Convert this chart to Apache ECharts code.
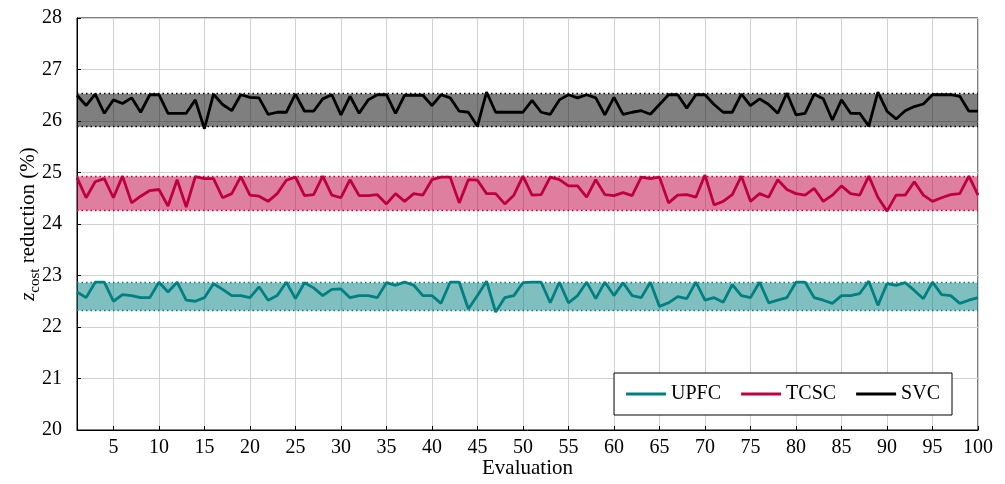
<!DOCTYPE html>
<html>
<head>
<meta charset="utf-8">
<script src="https://cdn.jsdelivr.net/npm/echarts@6/dist/echarts.min.js"></script>
<style>
  html, body { margin: 0; padding: 0; background: #fff; }
  #chart { width: 1005px; height: 484px; }
</style>
</head>
<body>
<div id="chart"></div>
<script>
// z_cost reduction (%) per evaluation
const upfc = [
  22.68, 22.57, 22.87, 22.87, 22.50, 22.63, 22.61, 22.57, 22.57, 22.87,
  22.68, 22.87, 22.52, 22.50, 22.57, 22.84, 22.73, 22.61, 22.61, 22.57,
  22.78, 22.52, 22.61, 22.87, 22.55, 22.86, 22.76, 22.61, 22.73, 22.74,
  22.57, 22.61, 22.61, 22.57, 22.86, 22.81, 22.87, 22.81, 22.61, 22.61,
  22.46, 22.87, 22.87, 22.35, 22.61, 22.89, 22.29, 22.57, 22.61, 22.86,
  22.87, 22.87, 22.47, 22.87, 22.47, 22.61, 22.87, 22.55, 22.87, 22.61,
  22.86, 22.61, 22.57, 22.87, 22.40, 22.47, 22.59, 22.55, 22.87, 22.52,
  22.57, 22.48, 22.82, 22.61, 22.57, 22.87, 22.47, 22.52, 22.57, 22.87,
  22.87, 22.57, 22.52, 22.46, 22.61, 22.61, 22.65, 22.89, 22.42, 22.84,
  22.81, 22.86, 22.71, 22.55, 22.87, 22.63, 22.61, 22.46, 22.52, 22.57
];
const tcsc = [
  24.90, 24.51, 24.82, 24.88, 24.51, 24.93, 24.41, 24.54, 24.65, 24.67,
  24.35, 24.86, 24.33, 24.92, 24.88, 24.88, 24.51, 24.59, 24.92, 24.56,
  24.54, 24.44, 24.59, 24.85, 24.91, 24.55, 24.57, 24.93, 24.56, 24.51,
  24.86, 24.55, 24.55, 24.57, 24.39, 24.59, 24.44, 24.59, 24.56, 24.86,
  24.91, 24.91, 24.41, 24.86, 24.85, 24.59, 24.59, 24.39, 24.56, 24.93,
  24.56, 24.57, 24.91, 24.86, 24.74, 24.74, 24.52, 24.86, 24.57, 24.55,
  24.61, 24.55, 24.91, 24.88, 24.91, 24.41, 24.56, 24.57, 24.52, 24.95,
  24.37, 24.44, 24.57, 24.93, 24.44, 24.59, 24.52, 24.86, 24.67, 24.59,
  24.56, 24.69, 24.44, 24.56, 24.74, 24.59, 24.56, 24.93, 24.52, 24.25,
  24.56, 24.56, 24.82, 24.56, 24.44, 24.51, 24.57, 24.59, 24.93, 24.56
];
const svc = [
  26.50, 26.30, 26.52, 26.15, 26.41, 26.34, 26.45, 26.17, 26.51, 26.51,
  26.15, 26.15, 26.15, 26.41, 25.85, 26.52, 26.32, 26.20, 26.51, 26.46,
  26.45, 26.13, 26.17, 26.17, 26.52, 26.19, 26.19, 26.43, 26.51, 26.12,
  26.48, 26.15, 26.41, 26.51, 26.51, 26.15, 26.50, 26.50, 26.50, 26.30,
  26.51, 26.45, 26.19, 26.17, 25.90, 26.56, 26.17, 26.17, 26.17, 26.17,
  26.40, 26.17, 26.13, 26.41, 26.51, 26.45, 26.51, 26.45, 26.12, 26.46,
  26.13, 26.17, 26.20, 26.13, 26.32, 26.51, 26.51, 26.25, 26.51, 26.51,
  26.32, 26.17, 26.17, 26.52, 26.30, 26.43, 26.32, 26.15, 26.54, 26.12,
  26.15, 26.52, 26.43, 26.02, 26.41, 26.15, 26.15, 25.90, 26.56, 26.19,
  26.04, 26.20, 26.28, 26.33, 26.51, 26.51, 26.51, 26.48, 26.19, 26.19
];

// min/max bands drawn behind each series
const upfcBand = [22.32, 22.86];
const tcscBand = [24.26, 24.92];
const svcBand = [25.89, 26.53];

// x tick labels
const xTicks = [5, 10, 15, 20, 25, 30, 35, 40, 45, 50, 55, 60, 65, 70, 75, 80, 85, 90, 95, 100];

const FONT = 'Liberation Serif';

function bandSeries(name, values, color, fill, band) {
  return {
    name: name,
    type: 'line',
    data: values.map((v, i) => [i + 1, v]),
    symbol: 'none',
    lineStyle: { color: color, width: 2.8 },
    itemStyle: { color: color },
    z: 3,
    markArea: {
      silent: true,
      itemStyle: { color: fill },
      data: [[{ yAxis: band[0] }, { yAxis: band[1] }]]
    },
    markLine: {
      silent: true,
      symbol: 'none',
      label: { show: false },
      lineStyle: { color: color, type: [1.5, 3], width: 1.3 },
      data: [{ yAxis: band[0] }, { yAxis: band[1] }]
    }
  };
}

const chart = echarts.init(document.getElementById('chart'));
chart.setOption({
  animation: false,
  grid: {
    left: 77, right: 27, top: 18, bottom: 54,
    outerBoundsMode: 'none',
    show: true, borderColor: '#000', borderWidth: 1
  },
  legend: {
    right: 53, bottom: 69,
    icon: 'rect', itemWidth: 40, itemHeight: 3, itemGap: 20,
    padding: [11, 12, 11, 12],
    backgroundColor: '#fff', borderColor: '#000', borderWidth: 1, borderRadius: 0,
    textStyle: { fontFamily: FONT, fontSize: 20, color: '#000' },
    data: ['UPFC', 'TCSC', 'SVC']
  },
  xAxis: {
    type: 'value', min: 1, max: 100,
    name: 'Evaluation', nameLocation: 'middle', nameGap: 28, nameMoveOverlap: false,
    nameTextStyle: { fontFamily: FONT, fontSize: 21, color: '#000' },
    axisLine: { lineStyle: { color: '#000', width: 1 } },
    axisTick: { inside: true, length: 4, lineStyle: { color: '#000' }, customValues: xTicks },
    axisLabel: { fontFamily: FONT, fontSize: 20, color: '#000', margin: 8, customValues: xTicks },
    splitLine: { show: true, lineStyle: { color: '#d0d0d0', width: 1 } }
  },
  yAxis: {
    type: 'value', min: 20, max: 28, interval: 1,
    name: '{z|z}{s|cost} reduction (%)', nameLocation: 'middle', nameGap: 34, nameMoveOverlap: false,
    nameTextStyle: {
      fontFamily: FONT, fontSize: 21, color: '#000', lineHeight: 30,
      rich: {
        z: { fontFamily: FONT, fontSize: 21, fontStyle: 'italic', color: '#000', lineHeight: 30 },
        s: { fontFamily: FONT, fontSize: 15, color: '#000', lineHeight: 16, verticalAlign: 'bottom' }
      }
    },
    axisLine: { show: true, lineStyle: { color: '#000', width: 1 } },
    axisTick: { inside: true, length: 4, lineStyle: { color: '#000' } },
    axisLabel: { fontFamily: FONT, fontSize: 20, color: '#000', margin: 15 },
    splitLine: { show: true, lineStyle: { color: '#d0d0d0', width: 1 } }
  },
  series: [
    bandSeries('UPFC', upfc, '#008080', 'rgba(0,128,128,0.5)', upfcBand),
    bandSeries('TCSC', tcsc, '#bf0040', 'rgba(191,0,64,0.5)', tcscBand),
    bandSeries('SVC', svc, '#000000', 'rgba(0,0,0,0.5)', svcBand)
  ]
});
</script>
</body>
</html>
